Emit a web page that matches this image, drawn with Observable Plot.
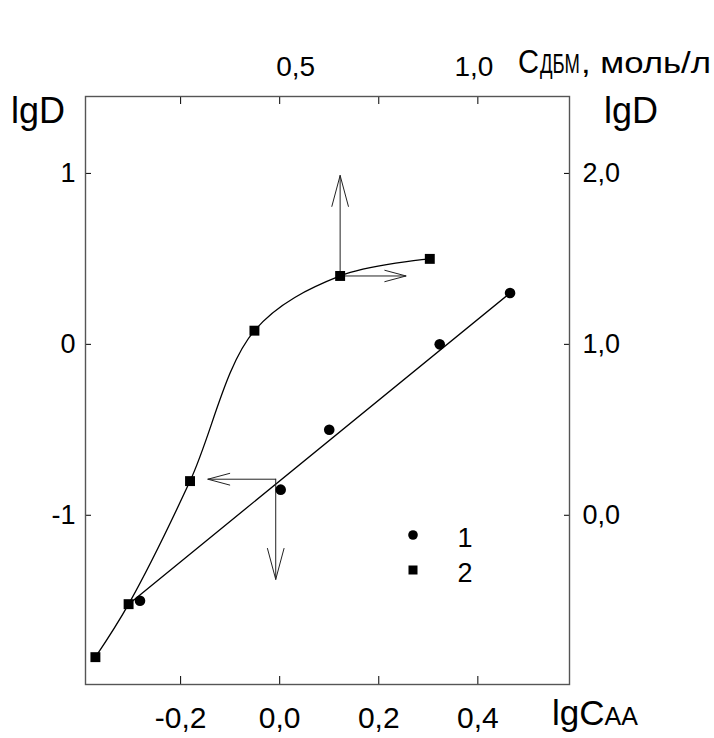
<!DOCTYPE html>
<html><head><meta charset="utf-8">
<script src="https://cdn.jsdelivr.net/npm/d3@7"></script>
<script src="https://cdn.jsdelivr.net/npm/@observablehq/plot@0.6"></script>
<style>
body{margin:0;background:#fff;}
#chart svg{font-family:"Liberation Sans",Arial,sans-serif;}
</style></head><body><div id="chart"></div>
<script>
// Series 1 (circles) and its straight fit line
const s1X = [-0.282, 0.002, 0.100, 0.323, 0.465];
const s1Y = [-1.50, -0.85, -0.50, 0.00, 0.30];
const fitX = [-0.305, 0.465];
const fitY = [-1.52, 0.30];
// Series 2 (squares) with smooth curve
const s2X = [-0.372, -0.305, -0.181, -0.051, 0.122, 0.303];
const s2Y = [-1.83, -1.52, -0.80, 0.08, 0.40, 0.50];
// Arrows (start -> end)
const arrX1 = [0.122, 0.122, -0.008, -0.008];
const arrY1 = [0.40, 0.40, -0.789, -0.789];
const arrX2 = [0.122, 0.255, -0.145, -0.008];
const arrY2 = [0.988, 0.40, -0.789, -1.375];
// Axes
const leftTicks = [-1, 0, 1];
const leftTickLabels = ["-1", "0", "1"];
const rightTickLabels = ["0,0", "1,0", "2,0"];
const bottomTicks = [-0.2, 0, 0.2, 0.4];
const bottomTickLabels = ["-0,2", "0,0", "0,2", "0,4"];
const topTicksC = [0.25, 0.5, 0.75, 1.0];
const topLabelC = [0.5, 1.0];
const topLabels = ["0,5", "1,0"];
const yTitle = "lgD";
const xTitleParts = ["lgC", "AA"];
const topTitleParts = ["С", "ДБМ", ", моль/л"];
const legendLabels = ["1", "2"];

const s1 = s1X.map((x, i) => ({x, y: s1Y[i]}));
const s2 = s2X.map((x, i) => ({x, y: s2Y[i]}));
const fit = fitX.map((x, i) => ({x, y: fitY[i]}));
const arrows = arrX1.map((x1, i) => ({x1, y1: arrY1[i], x2: arrX2[i], y2: arrY2[i]}));
const cToX = c => (c - 0.5) * 0.8;
const FONT = "'Liberation Sans', Arial, sans-serif";

const chart = Plot.plot({
  width: 714, height: 738,
  marginLeft: 85, marginRight: 145, marginTop: 96, marginBottom: 54,
  x: {domain: [-0.392, 0.585]},
  y: {domain: [-1.99, 1.45]},
  style: {fontFamily: FONT, color: "#000", background: "#fff", overflow: "visible"},
  marks: [
    Plot.axisX(bottomTicks, {anchor: "bottom", tickSize: -8, tickPadding: 30, fontSize: 30,
      tickFormat: d => bottomTickLabels[bottomTicks.indexOf(d)], label: null}),
    Plot.axisX(topTicksC.map(cToX), {anchor: "top", tickSize: -7, tickFormat: () => "", label: null}),
    Plot.axisY(leftTicks, {anchor: "left", tickSize: -6, tickPadding: 16, fontSize: 27,
      tickFormat: d => leftTickLabels[leftTicks.indexOf(d)], label: null}),
    Plot.axisY(leftTicks, {anchor: "right", tickSize: -6, tickPadding: 19, fontSize: 27,
      tickFormat: d => rightTickLabels[leftTicks.indexOf(d)], label: null}),
    Plot.text([topLabelC[0]], {x: cToX, text: () => topLabels[0], frameAnchor: "top", lineAnchor: "bottom", dy: -21, dx: 16, fontSize: 28}),
    Plot.text([topLabelC[1]], {x: cToX, text: () => topLabels[1], frameAnchor: "top", lineAnchor: "bottom", dy: -21, dx: -4, fontSize: 28}),
    Plot.frame({stroke: "#555", strokeWidth: 1.4}),
    Plot.line(fit, {x: "x", y: "y", stroke: "#000", strokeWidth: 1.3}),
    Plot.line(s2, {x: "x", y: "y", stroke: "#000", strokeWidth: 1.3, curve: "catmull-rom"}),
    Plot.arrow(arrows, {x1: "x1", y1: "y1", x2: "x2", y2: "y2", stroke: "#222", strokeWidth: 1, headLength: 48, headAngle: 30}),
    Plot.dot(s1, {x: "x", y: "y", r: 5.3, fill: "#000", stroke: "none"}),
    Plot.dot(s2, {x: "x", y: "y", r: 5.6, symbol: "square", fill: "#000", stroke: "none"})
  ]
});
document.getElementById("chart").appendChild(chart);

const svg = d3.select(chart);
function addText(x, y, parts, anchor) {
  const t = svg.append("text").attr("x", x).attr("y", y).attr("text-anchor", anchor || "start")
    .attr("fill", "#000").style("font-family", FONT);
  parts.forEach(([s, fs]) => t.append("tspan").attr("font-size", fs).text(s));
  return t;
}
// text squeezed/stretched horizontally to a given width (as in the reference lettering)
function fitText(x, y, s, fs, width) {
  const t = svg.append("text").attr("fill", "#000").style("font-family", FONT)
    .attr("text-anchor", "start").attr("font-size", fs).text(s);
  const w = t.node().getComputedTextLength() || width;
  t.attr("transform", `translate(${x},${y}) scale(${width / w},1)`);
  return t;
}
addText(11, 123, [[yTitle, 36]]);
addText(604, 123, [[yTitle, 36]]);
addText(552, 725, [[xTitleParts[0], 35], [xTitleParts[1], 25]]);
fitText(518, 73, topTitleParts[0], 34, 21);
fitText(540, 73, topTitleParts[1], 28, 40);
fitText(581, 73, topTitleParts[2], 30, 130);
// legend
const lg = svg.append("g");
lg.append("circle").attr("cx", 413).attr("cy", 535).attr("r", 4.8).attr("fill", "#000");
lg.append("rect").attr("x", 408.5).attr("y", 565.5).attr("width", 9).attr("height", 9).attr("fill", "#000");
addText(465, 547, [[legendLabels[0], 27]], "middle");
addText(465, 582, [[legendLabels[1], 27]], "middle");
</script></body></html>
